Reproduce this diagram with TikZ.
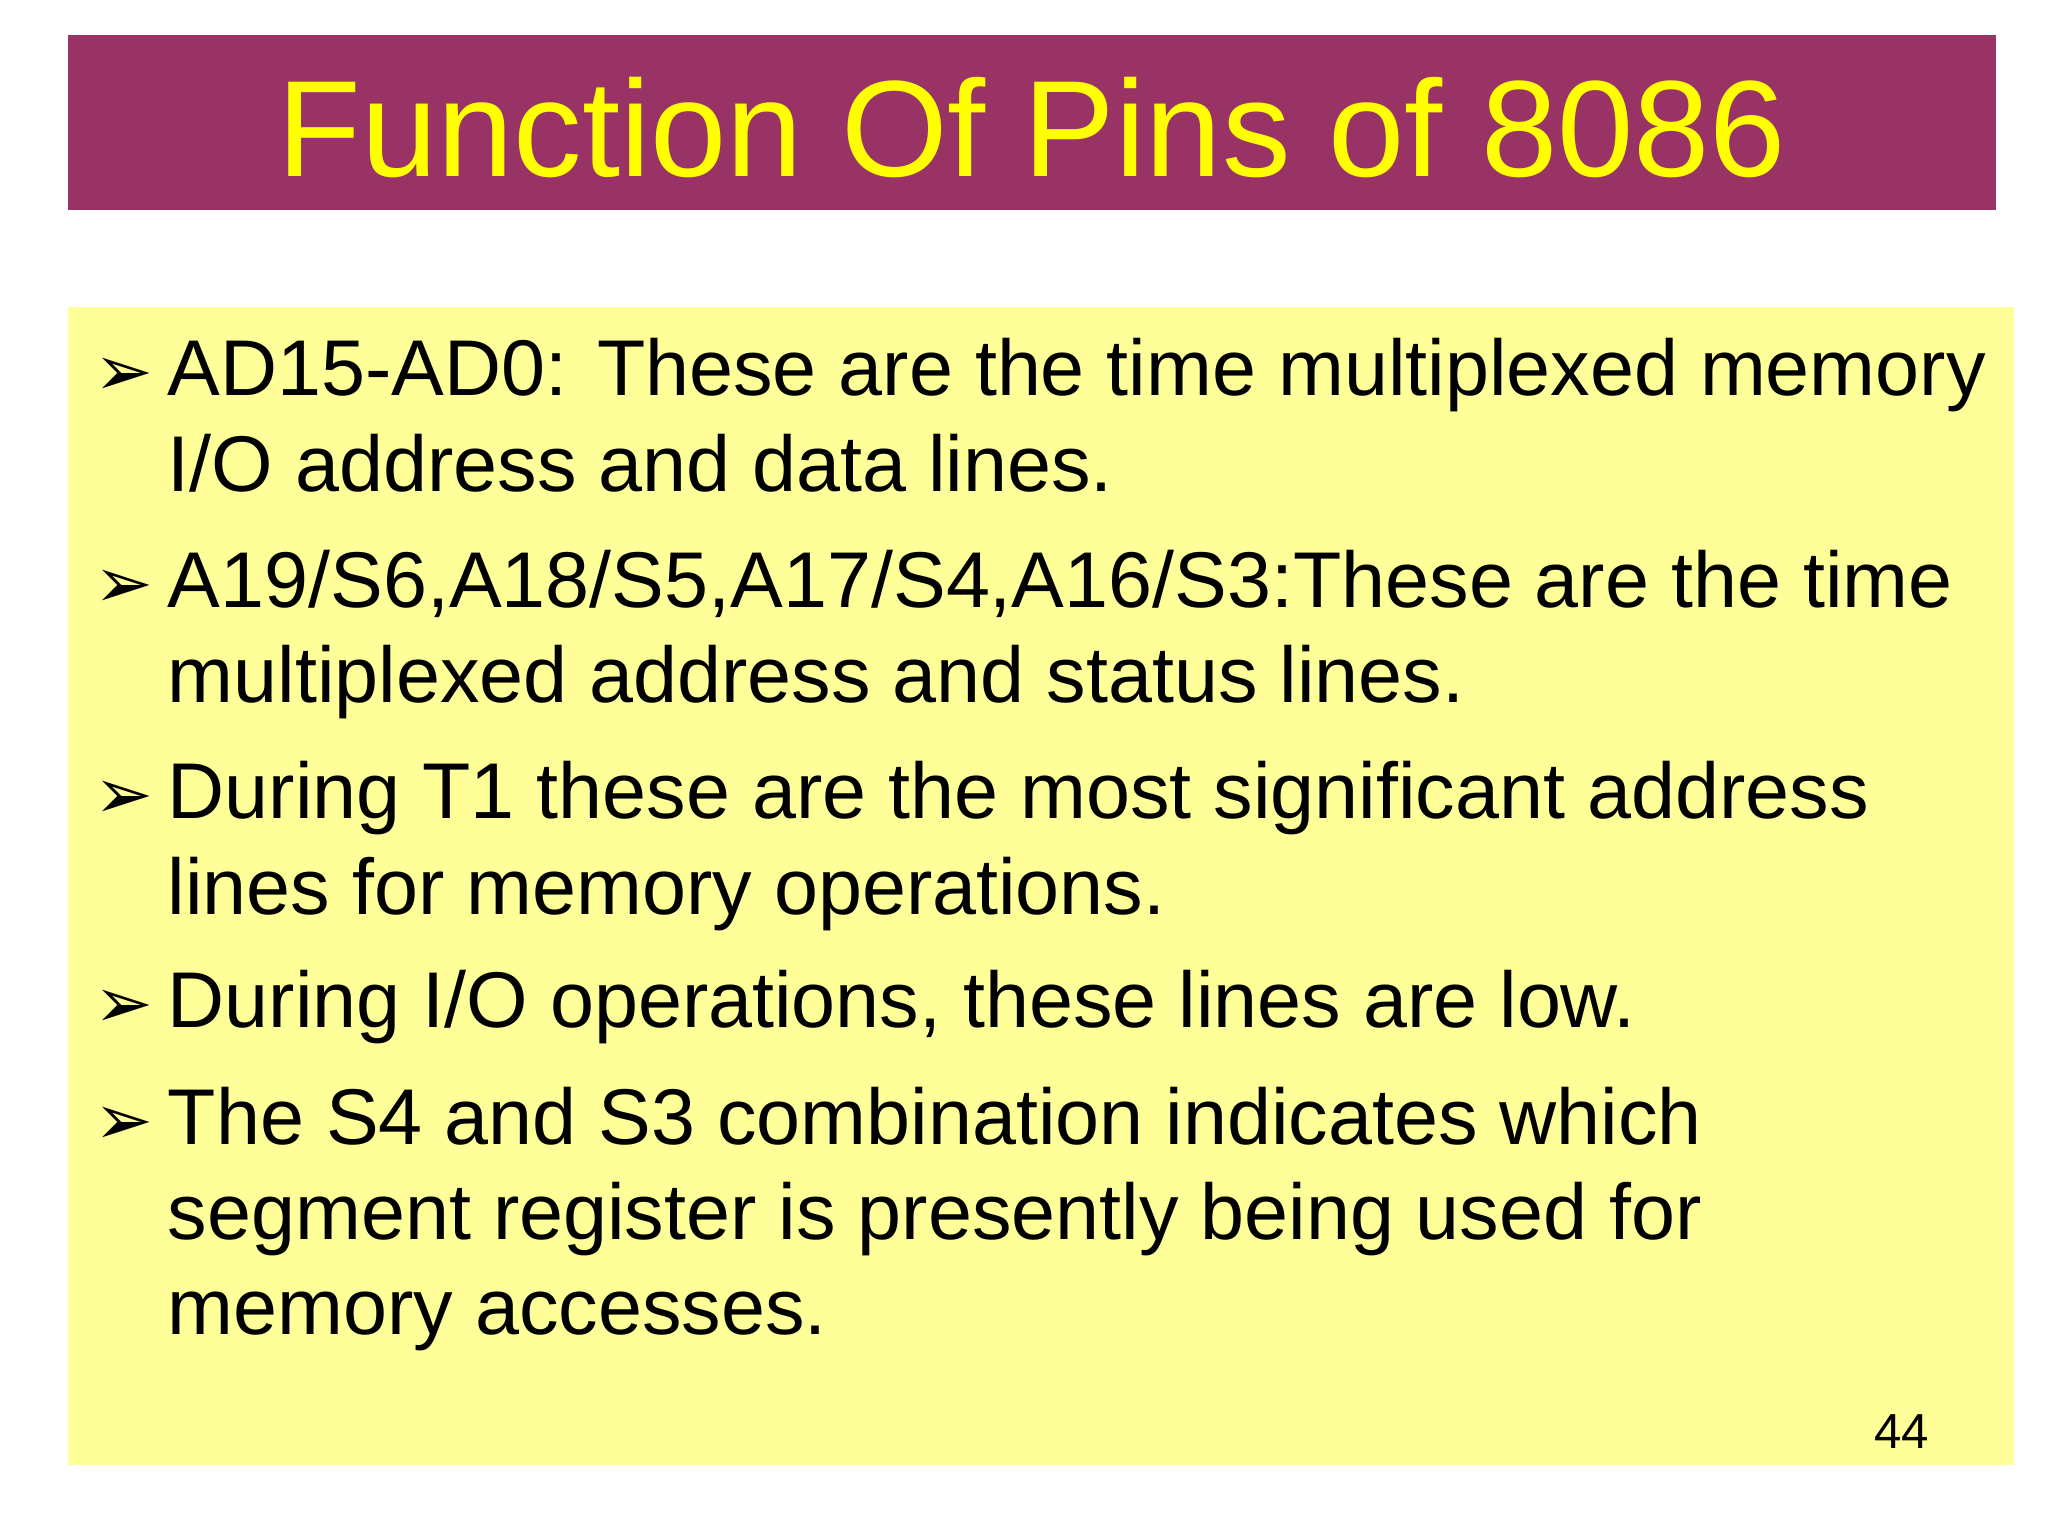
\documentclass[tikz,border=0pt]{standalone}
\usepackage{fontspec}
\setmainfont{Liberation Sans}
\newfontfamily\djvfont{DejaVu Sans}
\begin{document}
\begin{tikzpicture}[x=0.01306cm,y=-0.01306cm,
  ln/.style={anchor=base west,inner sep=0pt,font=\fontsize{22.5}{27}\selectfont},
  bul/.style={anchor=base west,inner sep=0pt,font=\djvfont\fontsize{20}{24}\selectfont}]
\useasboundingbox (0,0) rectangle (1568,1176);
\fill[white] (0,0) rectangle (1568,1176);
\fill[fill={rgb,255:red,153;green,51;blue,102}] (52,27) rectangle (1528,161);
\node[inner sep=0pt,text={rgb,255:red,255;green,255;blue,0},font=\fontsize{39}{44}\selectfont] (title) at (790,98) {Function Of Pins of 8086};
\fill[fill={rgb,255:red,255;green,255;blue,153}] (52,235) rectangle (1542,1122);
\foreach \y [count=\i] in {303,465,627,787,876} \node[bul] (b\i) at (72,\y) {➢};
\node[ln] (l1) at (128,303) {AD15-AD0: These are the time multiplexed memory};
\node[ln] (l2) at (128,376) {I/O address and data lines.};
\node[ln] (l3) at (128,465) {A19/S6,A18/S5,A17/S4,A16/S3:These are the time};
\node[ln] (l4) at (128,538) {multiplexed address and status lines.};
\node[ln] (l5) at (128,627) {During T1 these are the most significant address};
\node[ln] (l6) at (128,700) {lines for memory operations.};
\node[ln] (l7) at (128,787) {During I/O operations, these lines are low.};
\node[ln] (l8) at (128,876) {The S4 and S3 combination indicates which};
\node[ln] (l9) at (128,949) {segment register is presently being used for};
\node[ln] (l10) at (128,1022) {memory accesses.};
\node[anchor=base,inner sep=0pt,font=\fontsize{14}{16}\selectfont] (pg) at (1456,1109) {44};
\end{tikzpicture}
\end{document}
